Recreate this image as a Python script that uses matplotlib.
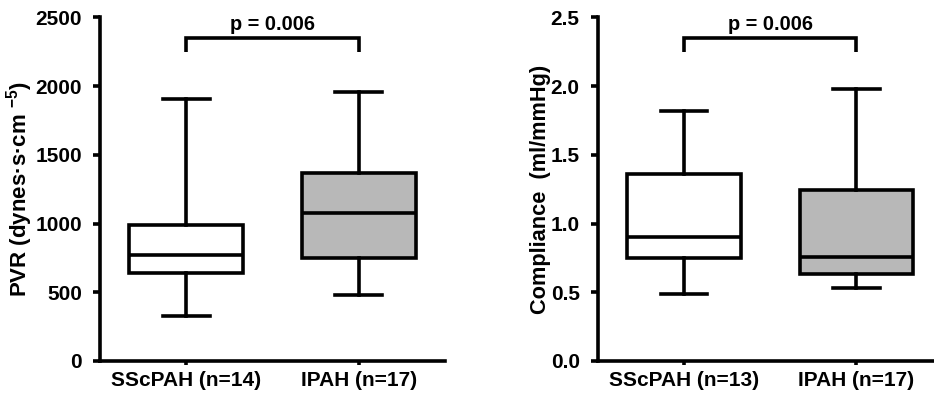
import matplotlib
matplotlib.use("Agg")
import matplotlib.pyplot as plt

plt.rcParams['font.family'] = ['Liberation Sans', 'DejaVu Sans']
plt.rcParams['font.weight'] = 'bold'
plt.rcParams['mathtext.fontset'] = 'custom'
plt.rcParams['mathtext.rm'] = 'Liberation Sans:bold'
plt.rcParams['mathtext.bf'] = 'Liberation Sans:bold'
plt.rcParams['mathtext.default'] = 'bf'

# ---- data (min, Q1, median, Q3, max) ----
pvr_labels = ["SScPAH (n=14)", "IPAH (n=17)"]
pvr_min = [325, 480]
pvr_q1 = [640, 750]
pvr_med = [770, 1080]
pvr_q3 = [990, 1370]
pvr_max = [1905, 1960]

comp_labels = ["SScPAH (n=13)", "IPAH (n=17)"]
comp_min = [0.49, 0.53]
comp_q1 = [0.75, 0.63]
comp_med = [0.905, 0.755]
comp_q3 = [1.362, 1.245]
comp_max = [1.82, 1.98]

fills = ["white", "#b8b8b8"]
p_text = "p = 0.006"

fig = plt.figure(figsize=(9.34, 3.93), dpi=100)
ax1 = fig.add_axes([100/934, 1-361/393, 345/934, (361-17.3)/393])
ax2 = fig.add_axes([597.7/934, 1-361/393, 345/934, (361-17.3)/393])

LW = 2.6

def draw(ax, labels, mn, q1, med, q3, mx, ylim, yticks, yfmt, ylabel, ylabel_size, bracket):
    stats = []
    for i in range(len(labels)):
        stats.append(dict(whislo=mn[i], q1=q1[i], med=med[i], q3=q3[i], whishi=mx[i], fliers=[], label=labels[i]))
    bp = ax.bxp(stats, positions=[1, 2], widths=0.66, patch_artist=True, showfliers=False,
                boxprops=dict(linewidth=LW, edgecolor='black'),
                medianprops=dict(linewidth=LW, color='black'),
                whiskerprops=dict(linewidth=LW, color='black'),
                capprops=dict(linewidth=LW, color='black'),
                capwidths=0.27)
    for patch, c in zip(bp['boxes'], fills):
        patch.set_facecolor(c)
    ax.set_xlim(0.5, 2.5)
    ax.set_ylim(*ylim)
    ax.set_yticks(yticks)
    ax.set_yticklabels([yfmt.format(v) for v in yticks])
    ax.set_xticks([1, 2])
    ax.set_xticklabels(labels)
    for s in ['top', 'right']:
        ax.spines[s].set_visible(False)
    for s in ['left', 'bottom']:
        ax.spines[s].set_linewidth(LW)
    ax.tick_params(axis='y', length=5, width=LW, labelsize=15, pad=8)
    ax.tick_params(axis='x', length=3, width=LW, labelsize=15, pad=4)
    for t in ax.get_xticklabels() + ax.get_yticklabels():
        t.set_fontweight('bold')
    ax.set_ylabel(ylabel, fontsize=ylabel_size, fontweight='bold', labelpad=0)
    top, bot, ty = bracket
    ax.plot([1, 1, 2, 2], [bot, top, top, bot], color='black', lw=LW, solid_capstyle='butt',
            solid_joinstyle='miter', clip_on=False)
    ax.text(1.5, ty, p_text, ha='center', va='bottom', fontsize=14.3, fontweight='bold')

draw(ax1, pvr_labels, pvr_min, pvr_q1, pvr_med, pvr_q3, pvr_max, (0, 2500),
     [0, 500, 1000, 1500, 2000, 2500], "{:.0f}", r"PVR (dynes·s·cm $^{-5}$)", 16, (2347, 2250, 2375))
draw(ax2, comp_labels, comp_min, comp_q1, comp_med, comp_q3, comp_max, (0, 2.5),
     [0, 0.5, 1.0, 1.5, 2.0, 2.5], "{:.1f}", "Compliance  (ml/mmHg)", 15.7, (2.347, 2.25, 2.375))

fig.savefig("out.png", dpi=100)
